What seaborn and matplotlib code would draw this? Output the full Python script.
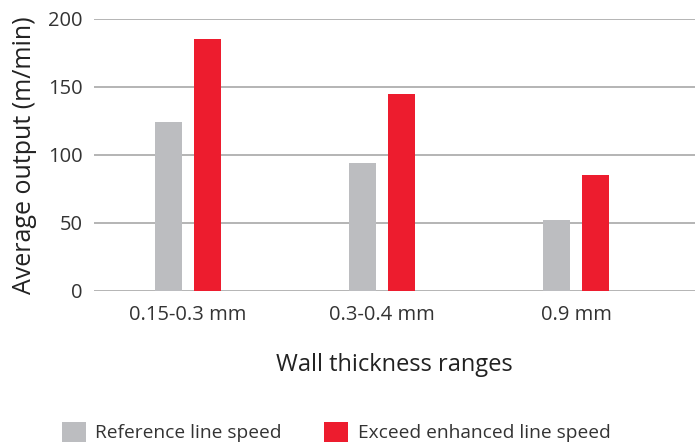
import pandas as pd
import matplotlib
matplotlib.use("Agg")
import matplotlib.pyplot as plt
import seaborn as sns

# Data
ranges = ["0.15-0.3 mm", "0.3-0.4 mm", "0.9 mm"]
reference_speed = [124, 94, 52]
enhanced_speed = [185, 145, 85]
series_names = ["Reference line speed", "Exceed enhanced line speed"]
colors = ["#BCBDC0", "#ED1C2E"]

df = pd.DataFrame({
    "range": ranges * 2,
    "output": reference_speed + enhanced_speed,
    "series": [series_names[0]] * 3 + [series_names[1]] * 3,
})

sns.set_style("white")
plt.rcParams["font.family"] = ["Open Sans", "DejaVu Sans"]

fig = plt.figure(figsize=(6.95, 4.43), dpi=100)
ax = fig.add_axes([94 / 695, (443 - 291) / 443, 1 - 94 / 695, (291 - 19) / 443])

sns.barplot(data=df, x="range", y="output", hue="series", palette=colors,
            width=0.4, gap=0.3, saturation=1, linewidth=0, ax=ax,
            legend=True, zorder=3)

ax.set_ylim(0, 200)
ax.set_xlim(-0.485, 2.613)
ax.set_yticks([0, 50, 100, 150, 200])
ax.grid(axis="y", color="#A8A8A8", linewidth=1.2, zorder=0)
ax.set_axisbelow(True)
for s in ax.spines.values():
    s.set_visible(False)
ax.tick_params(axis="both", length=0, labelsize=14.5, colors="#333333")
ax.tick_params(axis="y", pad=8)
ax.tick_params(axis="x", pad=10)

ax.set_xlabel("Wall thickness ranges", fontsize=17, color="#222222", labelpad=20)
ax.set_ylabel("Average output (m/min)", fontsize=18, color="#222222", labelpad=8)

ax.legend(loc="center", bbox_to_anchor=(336 / 695, (443 - 432) / 443),
          bbox_transform=fig.transFigure, ncol=2, frameon=False,
          fontsize=13.8, handlelength=1.25, handleheight=1.2,
          handletextpad=0.5, columnspacing=2.2, labelcolor="#333333")

fig.savefig("out.png", dpi=100)
